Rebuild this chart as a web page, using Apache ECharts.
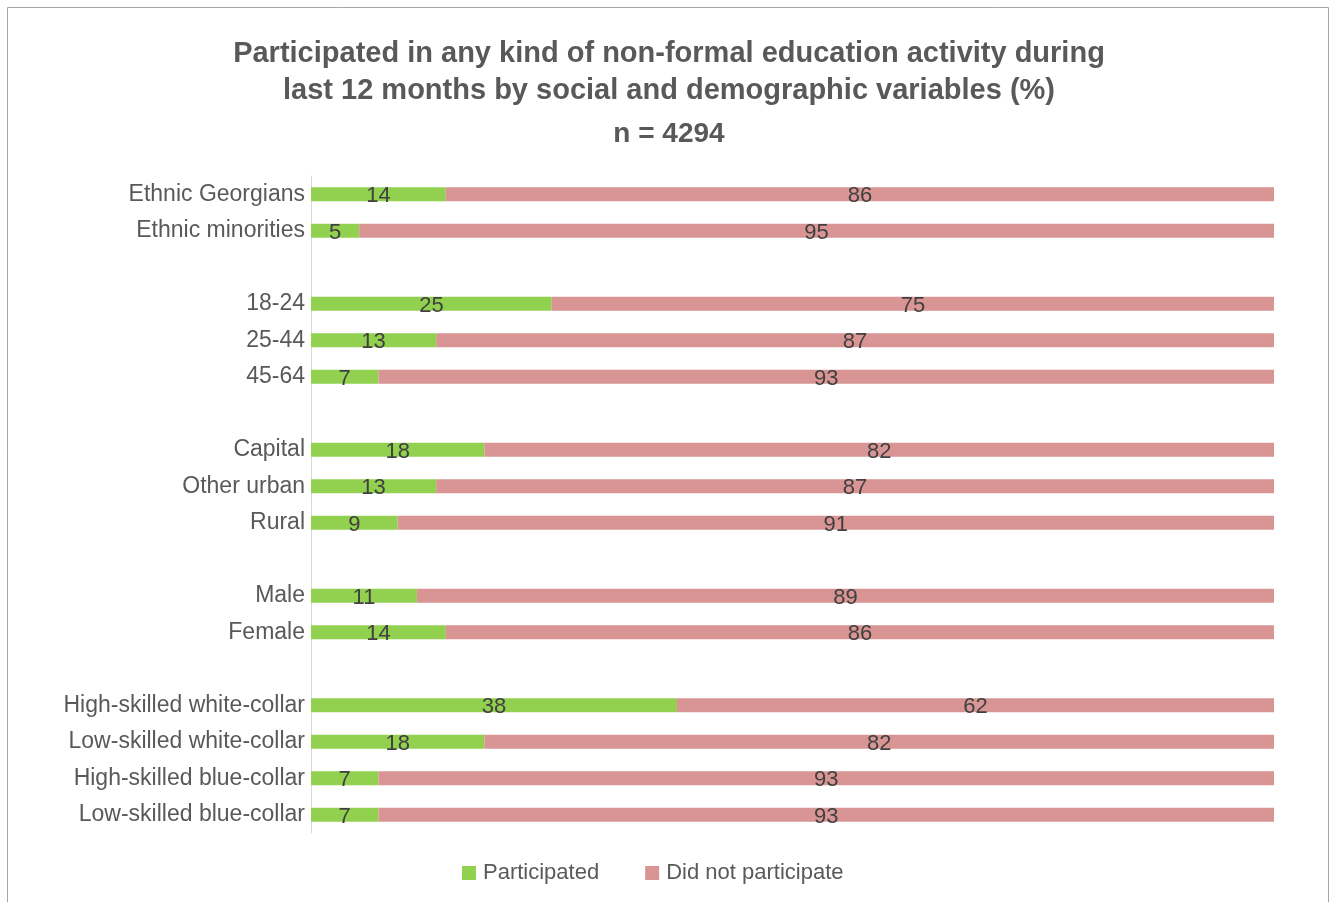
<!DOCTYPE html>
<html>
<head>
<meta charset="utf-8">
<script src="https://cdn.jsdelivr.net/npm/echarts@6/dist/echarts.min.js"></script>
<style>
  html, body { margin: 0; padding: 0; background: #ffffff; }
  #chart { width: 1330px; height: 902px; }
</style>
</head>
<body>
<div id="chart"></div>
<script>
// Row labels, top to bottom; blank rows separate the groups
const categories = [
  'Ethnic Georgians', 'Ethnic minorities', ' ',
  '18-24', '25-44', '45-64', '  ',
  'Capital', 'Other urban', 'Rural', '   ',
  'Male', 'Female', '    ',
  'High-skilled white-collar', 'Low-skilled white-collar',
  'High-skilled blue-collar', 'Low-skilled blue-collar'
];
const participated = [14, 5, null, 25, 13, 7, null, 18, 13, 9, null, 11, 14, null, 38, 18, 7, 7];
const didNotParticipate = [86, 95, null, 75, 87, 93, null, 82, 87, 91, null, 89, 86, null, 62, 82, 93, 93];

const titleLines = [
  'Participated in any kind of non-formal education activity during',
  'last 12 months by social and demographic variables (%)'
];
const subtitle = 'n = 4294';

const font = 'Liberation Sans, Arial, sans-serif';
const labelStyle = {
  show: true,
  position: 'inside',
  color: '#404040',
  fontSize: 22,
  fontFamily: font,
  offset: [0, 2],
  formatter: p => (p.value == null ? '' : String(p.value))
};

const chart = echarts.init(document.getElementById('chart'), null, { renderer: 'canvas' });
chart.setOption({
  animation: false,
  backgroundColor: '#ffffff',
  title: [
    {
      text: titleLines.join('\n'),
      left: 664, top: 30, textAlign: 'center',
      textStyle: { fontFamily: font, fontSize: 29, fontWeight: 'bold', color: '#595959', lineHeight: 37 }
    },
    {
      text: subtitle,
      left: 664, top: 115, textAlign: 'center',
      textStyle: { fontFamily: font, fontSize: 28, fontWeight: 'bold', color: '#595959' }
    }
  ],
  graphic: [{
    type: 'rect',
    shape: { x: 7.5, y: 7.5, width: 1321, height: 910 },
    style: { fill: 'none', stroke: '#a6a6a6', lineWidth: 1 },
    silent: true
  }],
  legend: {
    bottom: 13,
    left: 457,
    itemWidth: 14, itemHeight: 14,
    itemGap: 46,
    icon: 'rect',
    textStyle: { fontFamily: font, fontSize: 22, color: '#595959', padding: [0, 0, 0, 2] },
    data: ['Participated', 'Did not participate']
  },
  grid: { left: 311, right: 56, top: 176, bottom: 69, containLabel: false },
  xAxis: {
    type: 'value', min: 0, max: 100,
    show: false,
    splitLine: { show: false }
  },
  yAxis: {
    type: 'category',
    inverse: true,
    data: categories,
    axisLine: { show: true, lineStyle: { color: '#d9d9d9', width: 1 } },
    axisTick: { show: false },
    axisLabel: { fontFamily: font, fontSize: 23, color: '#595959', margin: 6, padding: [3, 0, 0, 0] },
    splitLine: { show: false }
  },
  series: [
    {
      name: 'Participated', type: 'bar', stack: 'total',
      barWidth: 14,
      itemStyle: { color: '#92D050' },
      label: labelStyle,
      data: participated
    },
    {
      name: 'Did not participate', type: 'bar', stack: 'total',
      barWidth: 14,
      itemStyle: { color: '#D99594' },
      label: labelStyle,
      data: didNotParticipate
    }
  ]
});
</script>
</body>
</html>
